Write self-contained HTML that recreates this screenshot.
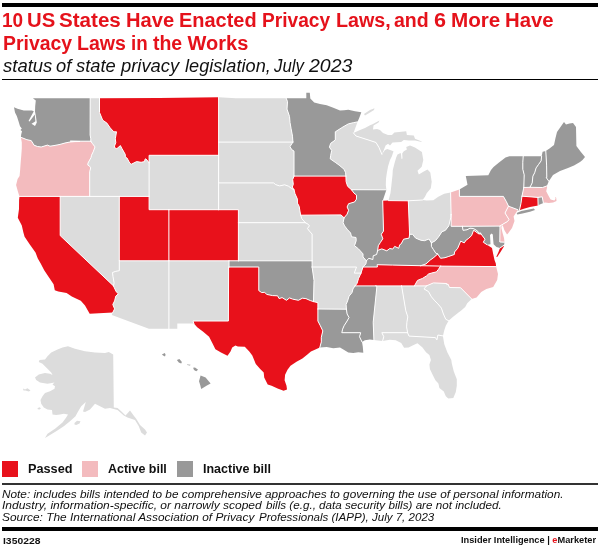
<!DOCTYPE html>
<html><head><meta charset="utf-8"><title>10 US States Have Enacted Privacy Laws</title>
<style>
html,body{margin:0;padding:0;background:#fff}
#c{position:relative;width:600px;height:551px;overflow:hidden;background:#fff;will-change:transform;font-family:"Liberation Sans",sans-serif}
#c span{position:absolute;white-space:nowrap;line-height:1;transform-origin:0 0;display:block}
#c span span{position:static;display:inline}
.bar{position:absolute;background:#000}
.sq{position:absolute;width:16.2px;height:15.9px;top:461px}
</style></head><body>
<div id="c">
<div class="bar" style="left:2px;top:3px;width:596px;height:3.6px"></div>
<div class="bar" style="left:2px;top:79px;width:596px;height:1px"></div>
<svg width="600" height="551" viewBox="0 0 600 551" style="position:absolute;left:0;top:0">
<g fill="#dcdcdc">
<path d="M60.2,196.4L119.3,196.4L119.3,260.8L119.3,270.7L115.8,271.3L112.5,272.5L113.0,276.8L114.1,282.9L113.5,285.9L60.2,235.6Z"/>
<path d="M90.2,98.3L90.1,135.0L90.8,138.8L90.8,141.2L92.2,143.3L95.0,146.9L93.2,151.8L91.5,155.3L91.0,157.6L88.0,163.0L87.8,165.1L89.5,166.1L90.7,167.9L89.7,171.6L89.7,196.4L149.1,196.4L149.1,162.8L146.9,160.0L145.8,158.8L144.9,159.4L144.6,161.6L141.1,162.3L136.6,161.6L131.2,164.3L129.7,163.0L127.0,158.0L125.3,157.2L125.3,154.5L121.8,148.3L120.4,145.6L116.8,148.7L114.2,147.4L114.8,145.2L115.8,142.6L115.3,138.8L116.5,131.8L113.8,131.8L110.2,127.9L106.9,123.1L102.7,120.2L99.5,112.4L99.5,98.3Z"/>
<path d="M149.1,155.3L218.6,155.3L218.6,209.7L149.1,209.7Z"/>
<path d="M119.3,260.8L168.9,260.8L168.9,328.8L148.9,328.8L111.8,315.1L112.7,312.6L114.6,308.9L112.8,304.5L114.6,300.9L115.8,296.1L118.4,293.8L116.3,291.9L114.0,287.1L113.5,285.9L114.1,282.9L113.0,276.8L112.5,272.5L115.8,271.3L119.3,270.7Z"/>
<path d="M168.9,260.8L229.0,260.8L229.0,267.0L228.6,267.0L228.4,321.0L193.0,321.0L193.9,323.6L177.3,323.6L177.3,328.8L168.9,328.8Z"/>
<path d="M218.6,97.3L235.9,98.3L286.2,98.3L287.5,101.6L287.0,109.1L289.5,116.5L290.0,122.4L291.0,128.2L292.5,136.2L292.9,142.1L218.6,142.1Z"/>
<path d="M218.6,142.1L292.9,142.1L290.0,146.6L291.7,149.6L294.0,151.1L294.0,176.1L292.7,179.6L293.3,184.3L292.3,187.0L294.0,189.8L291.5,188.4L288.5,186.2L284.6,184.8L279.6,185.9L275.6,184.6L273.6,182.9L218.6,182.9Z"/>
<path d="M218.6,182.9L273.6,182.9L275.6,184.6L279.6,185.9L284.6,184.8L288.5,186.2L291.5,188.4L294.0,189.8L295.0,193.7L297.4,199.1L297.4,203.1L299.2,206.4L299.9,211.0L300.7,215.2L301.9,218.8L305.4,222.7L238.4,222.7L238.4,209.7L218.6,209.7Z"/>
<path d="M238.4,222.7L305.4,222.7L308.4,224.4L309.4,225.9L307.4,228.5L309.4,231.1L312.1,234.0L312.1,260.8L238.4,260.8Z"/>
<path d="M300.7,215.2L340.9,214.9L344.1,217.8L343.1,222.7L344.6,225.9L347.6,229.8L350.6,233.0L351.5,236.8L356.0,237.5L356.2,240.7L354.5,245.7L358.5,248.9L363.0,253.9L363.0,257.0L366.4,260.8L365.9,263.9L363.0,267.0L362.0,270.0L361.0,273.1L354.3,273.1L356.5,267.0L312.1,267.0L312.1,260.8L312.1,234.0L309.4,231.1L307.4,228.5L309.4,225.9L308.4,224.4L305.4,222.7L301.9,218.8Z"/>
<path d="M312.1,267.0L356.5,267.0L354.3,273.1L361.0,273.1L358.5,278.6L357.0,283.5L355.0,285.9L353.0,288.9L352.0,292.6L349.1,296.1L347.6,300.9L346.1,304.5L346.4,309.2L317.9,309.0L317.9,302.7L313.5,301.6L314.0,280.4Z"/>
<path d="M375.9,285.9L401.6,285.9L405.8,310.8L407.8,316.9L406.9,322.2L406.6,326.9L407.6,332.7L381.8,332.7L383.8,336.7L382.6,341.0L377.8,340.5L373.9,339.9L373.2,322.2L376.9,286.5Z"/>
<path d="M401.6,285.9L414.4,285.9L426.4,285.9L424.0,288.9L428.5,291.6L431.4,296.8L434.9,300.9L437.9,303.9L441.4,308.1L443.4,314.0L445.8,319.3L448.6,320.7L445.8,325.7L444.3,330.3L442.9,335.9L437.9,335.0L436.9,339.9L435.4,337.6L409.0,336.1L407.6,332.7L406.6,326.9L406.9,322.2L407.8,316.9L405.8,310.8Z"/>
<path d="M442.9,335.9L444.3,344.2L447.3,352.2L451.3,360.1L451.8,363.5L453.8,371.4L456.8,379.2L456.8,385.8L455.8,391.9L453.3,398.0L448.3,398.5L445.8,396.3L443.8,391.4L439.4,388.1L438.4,383.6L435.4,380.3L432.4,374.2L429.9,369.1L429.4,364.6L430.9,360.1L429.4,355.0L426.0,352.2L422.5,347.6L417.5,343.3L414.1,344.8L408.6,347.6L404.1,347.8L401.2,343.0L395.7,340.2L389.8,339.8L382.6,341.0L383.8,336.7L381.8,332.7L407.6,332.7L409.0,336.1L435.4,337.6L436.9,339.9L437.9,335.0Z"/>
<path d="M426.4,285.9L433.4,282.9L446.8,283.5L446.8,284.7L448.0,284.1L449.5,287.5L460.5,287.7L471.6,298.9L467.2,303.3L465.2,306.9L461.2,310.4L458.2,312.8L452.8,316.9L448.6,320.7L445.8,319.3L443.4,314.0L441.4,308.1L437.9,303.9L434.9,300.9L431.4,296.8L428.5,291.6L424.0,288.9Z"/>
<path d="M408.3,200.8L422.5,200.0L426.7,200.5L433.3,200.3L438.3,196.7L444.2,193.7L450.6,192.6L451.1,214.4L450.8,217.5L448.8,225.9L445.3,230.4L441.9,231.7L439.9,234.9L438.4,237.1L435.4,240.7L431.4,242.9L429.0,239.0L424.5,240.7L421.0,240.3L415.6,238.1L412.6,234.3L409.6,234.3Z"/>
<path d="M335.5,131.7L341.7,127.7L348.3,123.9L353.3,122.7L357.5,121.9L353.5,133.0L356.0,136.0L370.0,140.5L376.0,142.5L379.0,147.5L381.9,154.4L385.0,150.0L387.3,149.0L393.5,151.2L391.9,156.2L390.0,160.0L388.1,166.2L386.9,172.5L386.0,178.7L385.8,185.0L386.4,189.8L351.5,189.7L347.6,186.3L346.1,181.6L345.9,176.1L345.6,172.7L344.1,169.3L339.1,165.1L335.2,162.3L330.2,158.8L330.7,155.3L331.7,150.4L329.4,147.2L330.7,143.3L335.3,140.0L335.3,131.7Z"/>
<path d="M353.5,133.0L360.0,130.0L365.0,128.0L370.5,125.0L372.0,124.5L379.5,120.5L378.5,122.5L373.5,125.5L373.0,129.5L377.0,129.0L380.0,130.0L383.0,133.0L388.0,135.0L392.0,135.0L394.4,132.5L406.2,131.2L406.9,135.0L413.8,135.6L415.0,138.8L421.2,141.2L421.9,141.9L415.0,140.6L408.8,140.6L403.8,140.0L401.2,141.9L392.5,142.5L390.0,145.6L388.1,143.8L385.6,145.6L383.8,150.0L381.9,154.4L379.0,147.5L376.0,142.5L370.0,140.5L356.0,136.0ZM364.0,114.0L370.0,110.0L374.5,108.3L374.0,110.0L370.0,112.5L365.0,115.5ZM388.5,200.6L390.5,193.0L391.4,185.2L392.5,175.0L392.8,170.0L394.4,163.8L396.2,157.5L397.5,154.4L400.6,153.1L401.0,154.0L401.5,159.0L402.5,158.5L402.2,153.5L403.8,151.2L406.9,149.4L406.2,146.9L410.0,145.6L415.0,147.5L421.9,151.9L423.3,160.0L421.7,166.7L417.5,170.8L418.8,174.5L423.3,171.7L427.5,169.5L430.3,172.5L431.7,181.7L430.8,188.3L426.7,193.3L425.0,196.7L422.5,200.0L408.3,200.8Z"/>
<path d="M68.0,346.2L75.0,348.8L85.0,351.2L95.0,352.5L105.0,353.0L108.8,352.0L113.2,354.5L113.8,407.5L117.5,408.0L121.2,411.2L125.5,415.5L130.0,410.5L134.2,416.2L136.2,418.8L140.0,425.0L145.0,429.5L147.0,432.5L145.0,435.5L141.2,432.5L138.8,426.2L135.0,420.0L127.5,417.5L123.8,415.5L117.5,410.0L110.0,408.0L105.0,408.8L95.0,403.8L90.0,409.5L85.0,412.0L83.0,411.5L85.8,402.0L81.2,406.2L77.5,412.5L75.5,416.2L70.0,421.2L63.8,426.2L56.2,431.2L50.0,435.0L45.0,438.0L47.5,433.8L55.0,428.8L62.5,422.5L66.2,417.5L68.0,414.5L63.8,413.8L60.0,414.5L56.2,415.0L52.5,414.5L52.0,410.0L47.5,409.5L43.8,407.5L41.2,403.8L40.5,400.0L42.5,396.2L45.0,393.0L50.0,391.2L54.5,388.8L55.0,386.2L52.5,384.5L54.5,382.5L47.5,383.8L40.0,382.5L36.2,380.0L35.0,377.5L38.8,374.5L45.0,373.0L50.0,373.8L52.5,375.0L51.2,372.5L47.5,368.8L42.5,363.8L38.8,362.0L39.5,360.0L45.0,359.5L47.5,356.2L51.2,352.5L57.5,349.5L62.5,347.5ZM23.0,388.5L25.0,389.5L27.5,388.2L30.5,390.5L28.8,391.5L25.5,390.5L23.5,390.5ZM37.5,408.2L39.5,407.2L41.0,408.2L39.5,409.5L37.8,409.2ZM74.5,423.0L77.0,420.8L80.5,421.2L79.5,423.5L76.2,425.0L74.5,424.5Z"/>
</g>
<g fill="#f3bbbe">
<path d="M20.9,137.3L26.9,139.7L31.2,140.6L32.8,143.1L34.0,145.2L37.5,146.5L41.2,147.0L47.5,145.1L50.0,146.2L55.0,145.4L60.0,144.4L65.0,143.0L70.0,142.0L75.0,141.6L80.0,141.5L70.2,141.2L90.8,141.2L92.2,143.3L95.0,146.9L93.2,151.8L91.5,155.3L91.0,157.6L88.0,163.0L87.8,165.1L89.5,166.1L90.7,167.9L89.7,171.6L89.7,196.4L19.5,196.4L18.6,193.7L17.4,189.7L16.1,185.1L17.6,178.9L19.6,176.1L20.2,169.3L20.8,160.9L21.3,155.3L21.8,148.3L21.8,142.6Z"/>
<path d="M440.6,266.1L496.1,266.6L498.0,274.0L497.2,280.0L493.2,287.0L486.4,289.0L481.2,292.0L476.6,297.6L471.6,298.9L460.5,287.7L449.5,287.5L448.0,284.1L446.8,284.7L446.8,283.5L433.4,282.9L426.4,285.9L414.4,285.9L417.5,280.4L422.5,278.4L426.5,275.9L428.5,274.0L431.4,273.1L436.4,271.9L438.4,269.4Z"/>
<path d="M450.6,192.6L459.4,189.6L459.4,196.4L503.4,196.4L506.4,201.7L508.5,206.2L505.0,213.0L509.0,219.5L507.5,221.5L504.0,223.5L502.0,224.8L501.0,225.2L500.0,226.1L462.4,226.3L451.1,226.3L451.1,214.4Z"/>
<path d="M508.5,206.2L517.8,209.7L515.2,214.0L513.6,216.5L514.5,221.0L512.0,228.0L508.0,233.5L507.0,234.6L504.3,230.0L503.2,226.5L502.0,224.8L504.0,223.5L507.5,221.5L509.0,219.5L505.0,213.0Z"/>
<path d="M500.0,226.1L499.8,242.0L504.5,242.2L504.0,238.0L502.6,233.0L501.4,228.0L501.6,226.2L502.0,224.8L501.0,225.2Z"/>
<path d="M523.8,187.5L530.0,187.3L542.5,187.5L546.2,186.2L546.9,185.8L547.1,187.2L546.2,191.2L548.1,195.0L550.6,199.4L554.4,200.6L555.6,198.7L555.0,196.9L556.2,197.7L556.5,201.0L553.1,202.5L548.8,203.0L545.0,202.6L543.4,203.1L542.2,196.8L537.9,197.4L522.0,196.2Z"/>
</g>
<g fill="#999999">
<path d="M32.9,98.3L35.8,100.5L35.2,106.3L35.0,111.5L36.0,116.9L36.8,122.5L35.0,126.0L31.5,123.8L34.0,122.2L35.4,121.2L34.8,114.5L29.6,121.5L28.5,120.9L33.8,111.2L31.9,110.4L23.8,110.6L17.5,108.8L14.0,107.2L15.0,112.5L16.9,116.2L18.5,121.2L20.0,126.2L21.8,128.5L20.5,130.0L22.0,131.2L21.2,134.4L20.9,137.3L26.9,139.7L31.2,140.6L32.8,143.1L34.0,145.2L37.5,146.5L41.2,147.0L47.5,145.1L50.0,146.2L55.0,145.4L60.0,144.4L65.0,143.0L70.0,142.0L75.0,141.6L80.0,141.5L70.2,141.2L90.8,141.2L90.8,138.8L90.1,135.0L90.2,98.3Z"/>
<path d="M229.0,260.8L312.1,260.8L312.1,267.0L314.0,280.4L313.5,301.6L310.4,300.6L305.9,298.6L302.4,298.2L298.4,300.3L292.5,299.1L289.5,297.9L286.5,300.3L282.1,297.6L279.1,298.6L277.6,295.8L272.6,295.6L266.7,294.4L264.7,292.3L261.7,292.6L258.8,290.6L258.8,267.0L229.0,267.0Z"/>
<path d="M286.2,98.3L306.3,98.3L306.3,92.8L309.8,92.8L310.3,98.5L314.2,102.5L320.0,104.0L326.7,105.2L333.3,107.8L340.0,110.5L344.0,110.2L348.3,109.8L355.0,111.2L361.3,112.2L359.7,116.7L357.5,121.9L353.3,122.7L348.3,123.9L341.7,127.7L335.5,131.7L335.3,131.7L335.3,140.0L330.7,143.3L329.4,147.2L331.7,150.4L330.7,155.3L330.2,158.8L335.2,162.3L339.1,165.1L344.1,169.3L345.6,172.7L345.9,176.1L294.0,176.1L294.0,151.1L291.7,149.6L290.0,146.6L292.9,142.1L292.5,136.2L291.0,128.2L290.0,122.4L289.5,116.5L287.0,109.1L287.5,101.6Z"/>
<path d="M317.9,309.0L346.4,309.2L347.1,314.0L349.1,317.5L347.1,321.0L344.1,325.7L342.6,329.2L341.8,332.7L360.7,332.7L359.5,336.7L362.0,341.9L362.8,346.7L363.3,352.7L358.3,352.2L353.3,353.0L348.3,352.5L344.2,350.0L340.0,347.5L333.3,348.3L326.7,347.0L319.8,347.6L321.3,341.9L321.3,337.3L322.8,330.9L320.3,325.7L317.9,321.0Z"/>
<path d="M355.0,285.9L375.9,285.9L376.9,286.5L373.2,322.2L373.9,339.9L369.9,339.6L364.9,340.2L362.0,341.9L359.5,336.7L360.7,332.7L341.8,332.7L342.6,329.2L344.1,325.7L347.1,321.0L349.1,317.5L347.1,314.0L346.4,309.2L346.1,304.5L347.6,300.9L349.1,296.1L352.0,292.6L353.0,288.9Z"/>
<path d="M366.4,260.8L368.9,258.3L372.9,259.5L373.2,255.8L376.6,254.5L377.6,250.8L378.3,250.2L381.8,248.9L386.8,250.8L389.8,248.5L392.7,249.1L394.7,246.4L398.7,248.3L399.7,244.8L401.2,243.8L403.6,239.2L409.1,238.1L409.6,234.3L412.6,234.3L415.6,238.1L421.0,240.3L424.5,240.7L429.0,239.0L431.4,242.9L431.4,246.4L433.4,249.5L435.9,253.3L437.7,254.0L433.9,257.4L430.2,260.1L426.0,263.9L420.7,265.7L392.7,265.1L377.1,264.7L377.4,267.0L363.0,267.0L365.9,263.9Z"/>
<path d="M431.4,242.9L435.4,240.7L438.4,237.1L439.9,234.9L441.9,231.7L445.3,230.4L448.8,225.9L450.8,217.5L451.1,214.4L451.1,226.3L462.4,226.3L463.0,230.3L467.0,229.8L470.0,228.2L473.5,228.5L477.5,231.0L479.0,233.8L480.0,232.6L481.0,234.0L478.8,233.9L473.6,230.2L471.6,235.6L468.5,238.5L466.2,240.0L464.2,242.9L460.7,241.1L457.7,248.3L454.5,252.0L454.3,254.5L448.8,256.4L445.0,257.7L440.6,258.3L437.7,254.0L435.9,253.3L433.4,249.5L431.4,246.4Z"/>
<path d="M351.5,189.7L386.4,189.8L382.7,200.7L383.5,231.1L381.3,234.3L382.8,238.8L380.3,242.6L378.3,245.7L377.6,250.8L376.6,254.5L373.2,255.8L372.9,259.5L368.9,258.3L366.4,260.8L363.0,257.0L363.0,253.9L358.5,248.9L354.5,245.7L356.2,240.7L356.0,237.5L351.5,236.8L350.6,233.0L347.6,229.8L344.6,225.9L343.1,222.7L344.1,217.8L347.1,214.2L348.6,210.3L347.1,207.0L348.6,203.7L354.5,202.0L356.5,199.1L356.5,195.1L354.0,193.1Z"/>
<path d="M459.4,189.6L467.5,184.7L465.8,176.0L488.3,175.3L491.0,170.0L493.5,167.0L499.0,162.5L505.5,157.6L509.4,156.3L523.2,156.3L522.8,162.3L522.8,169.3L524.2,174.8L523.8,187.5L522.0,196.2L520.9,203.8L519.4,210.3L518.6,210.6L517.3,210.3L517.8,209.7L508.5,206.2L506.4,201.7L503.4,196.4L459.4,196.4ZM516.7,213.0L521.2,211.0L533.8,208.5L535.0,210.1L530.0,211.8L522.5,213.5L517.3,214.4Z"/>
<path d="M462.4,226.3L500.0,226.1L499.8,242.0L504.5,242.2L504.0,245.2L500.0,248.0L496.5,247.0L493.6,244.2L493.2,240.0L492.8,234.5L491.5,233.5L490.0,235.0L490.3,240.0L490.5,244.2L487.0,244.7L483.3,242.2L485.0,239.2L481.0,234.0L480.0,232.6L479.0,233.8L477.5,231.0L473.5,228.5L470.0,228.2L467.0,229.8L463.0,230.3Z"/>
<path d="M537.9,197.4L542.2,196.8L543.4,203.1L539.2,204.8L538.1,205.4Z"/>
<path d="M523.2,156.3L541.6,156.3L541.1,160.9L538.6,164.4L536.1,167.9L534.7,172.7L532.9,176.1L532.2,182.9L530.0,187.3L523.8,187.5L524.2,174.8L522.8,169.3L522.8,162.3Z"/>
<path d="M541.6,156.3L542.6,151.8L545.8,151.1L546.6,165.1L546.8,177.5L546.2,177.5L548.8,181.2L546.9,185.8L546.2,186.2L542.5,187.5L530.0,187.3L532.2,182.9L532.9,176.1L534.7,172.7L536.1,167.9L538.6,164.4L541.1,160.9Z"/>
<path d="M545.8,151.1L549.5,148.5L554.0,145.0L555.5,138.0L557.0,132.0L560.5,127.0L564.0,122.0L566.0,124.4L569.5,123.5L573.0,123.0L576.0,127.0L576.4,146.0L580.5,151.5L585.0,157.0L582.5,160.0L580.0,162.0L574.0,165.5L568.0,168.0L564.0,169.5L560.0,171.0L556.5,173.0L553.0,175.0L551.0,178.0L548.8,181.2L546.2,177.5L546.8,177.5L546.6,165.1Z"/>
<path d="M161.9,354.4L164.8,353.0L165.6,354.8L165.0,356.6L163.1,355.6ZM176.9,360.0L179.4,359.0L181.9,361.9L181.2,363.5L178.8,362.5ZM186.9,364.4L190.6,364.8L190.0,365.6L187.2,365.0ZM193.1,367.8L195.0,367.5L198.1,369.8L196.2,371.2L194.0,370.0ZM200.6,375.6L205.6,377.5L210.6,383.5L206.9,385.6L201.2,389.0L200.2,385.0L199.0,381.2Z"/>
</g>
<g fill="#e8111b">
<path d="M19.5,196.4L19.1,200.0L19.0,208.9L17.8,217.8L21.8,225.4L23.4,232.5L24.6,236.7L30.0,244.7L35.5,252.5L37.8,258.4L40.7,263.6L44.2,270.2L47.7,275.4L53.6,284.3L54.8,290.2L58.3,291.4L66.6,293.1L71.8,296.6L76.0,298.5L80.8,300.8L85.0,305.6L89.7,313.7L112.7,312.6L114.6,308.9L112.8,304.5L114.6,300.9L115.8,296.1L118.4,293.8L116.3,291.9L114.0,287.1L113.5,285.9L60.2,235.6L60.2,196.4Z"/>
<path d="M99.5,98.3L99.5,112.4L102.7,120.2L106.9,123.1L110.2,127.9L113.8,131.8L116.5,131.8L115.3,138.8L115.8,142.6L114.8,145.2L114.2,147.4L116.8,148.7L120.4,145.6L121.8,148.3L125.3,154.5L125.3,157.2L127.0,158.0L129.7,163.0L131.2,164.3L136.6,161.6L141.1,162.3L144.6,161.6L144.9,159.4L145.8,158.8L146.9,160.0L149.1,162.8L149.1,155.3L218.6,155.3L218.6,97.3L159.5,97.9Z"/>
<path d="M119.3,196.4L149.1,196.4L149.1,209.7L168.9,209.7L168.9,260.8L119.3,260.8Z"/>
<path d="M168.9,209.7L238.4,209.7L238.4,260.8L168.9,260.8Z"/>
<path d="M228.6,267.0L258.8,267.0L258.8,290.6L261.7,292.6L264.7,292.3L266.7,294.4L272.6,295.6L277.6,295.8L279.1,298.6L282.1,297.6L286.5,300.3L289.5,297.9L292.5,299.1L298.4,300.3L302.4,298.2L305.9,298.6L310.4,300.6L313.5,301.6L317.9,302.7L317.9,309.0L317.9,321.0L320.3,325.7L322.8,330.9L321.3,337.3L321.3,341.9L319.8,347.6L314.3,349.9L310.9,351.6L307.4,354.4L302.4,358.4L296.5,361.8L290.5,365.8L287.5,369.7L285.1,374.7L284.6,380.3L286.5,385.8L287.0,389.6L283.6,390.8L277.6,388.6L271.6,385.8L267.7,384.4L264.2,377.5L263.7,372.5L260.2,369.1L255.8,364.1L252.3,355.6L249.3,351.6L244.8,346.8L237.9,346.5L235.4,345.6L232.2,347.4L230.5,351.6L227.5,355.8L221.0,352.5L215.4,349.3L212.3,343.0L209.1,336.7L203.2,331.7L197.2,327.2L193.9,323.6L193.0,321.0L228.4,321.0Z"/>
<path d="M294.0,176.1L345.9,176.1L346.1,181.6L347.6,186.3L351.5,189.7L354.0,193.1L356.5,195.1L356.5,199.1L354.5,202.0L348.6,203.7L347.1,207.0L348.6,210.3L347.1,214.2L344.1,217.8L340.9,214.9L300.7,215.2L299.9,211.0L299.2,206.4L297.4,203.1L297.4,199.1L295.0,193.7L294.0,189.8L292.3,187.0L293.3,184.3L292.7,179.6Z"/>
<path d="M363.0,267.0L377.4,267.0L377.1,264.7L392.7,265.1L420.7,265.7L440.6,266.1L438.4,269.4L436.4,271.9L431.4,273.1L428.5,274.0L426.5,275.9L422.5,278.4L417.5,280.4L414.4,285.9L401.6,285.9L375.9,285.9L355.0,285.9L357.0,283.5L358.5,278.6L361.0,273.1L362.0,270.0Z"/>
<path d="M420.7,265.7L426.0,263.9L430.2,260.1L433.9,257.4L437.7,254.0L440.6,258.3L445.0,257.7L448.8,256.4L454.3,254.5L454.5,252.0L457.7,248.3L460.7,241.1L464.2,242.9L466.2,240.0L468.5,238.5L471.6,235.6L473.6,230.2L478.8,233.9L481.0,234.0L485.0,239.2L483.3,242.2L487.0,244.7L492.0,248.0L493.2,254.0L494.5,260.0L495.8,263.5L496.1,266.6L440.6,266.1ZM500.0,248.0L504.0,245.2L503.6,247.0L500.2,252.5L497.2,257.0L496.3,256.8L498.5,252.0Z"/>
<path d="M382.7,200.7L388.5,200.6L408.3,200.8L409.6,234.3L409.1,238.1L403.6,239.2L401.2,243.8L399.7,244.8L398.7,248.3L394.7,246.4L392.7,249.1L389.8,248.5L386.8,250.8L381.8,248.9L378.3,250.2L377.6,250.8L378.3,245.7L380.3,242.6L382.8,238.8L381.3,234.3L383.5,231.1Z"/>
<path d="M522.0,196.2L537.9,197.4L538.1,205.4L530.0,206.9L523.8,208.8L519.4,210.3L520.9,203.8Z"/>
</g>
<path d="M20.9,137.3L26.9,139.7L31.2,140.6L32.8,143.1L34.0,145.2L37.5,146.5L41.2,147.0L47.5,145.1L50.0,146.2L55.0,145.4L60.0,144.4L65.0,143.0L70.0,142.0L75.0,141.6L80.0,141.5L70.2,141.2L90.8,141.2M90.8,141.2L90.8,138.8L90.1,135.0L90.2,98.3M90.8,141.2L92.2,143.3L95.0,146.9L93.2,151.8L91.5,155.3L91.0,157.6L88.0,163.0L87.8,165.1L89.5,166.1L90.7,167.9L89.7,171.6L89.7,196.4M89.7,196.4L60.2,196.4M89.7,196.4L119.3,196.4M60.2,196.4L19.5,196.4M60.2,196.4L60.2,235.6L113.5,285.9M112.7,312.6L114.6,308.9L112.8,304.5L114.6,300.9L115.8,296.1L118.4,293.8L116.3,291.9L114.0,287.1L113.5,285.9M113.5,285.9L114.1,282.9L113.0,276.8L112.5,272.5L115.8,271.3L119.3,270.7L119.3,260.8M119.3,196.4L119.3,260.8M119.3,196.4L149.1,196.4M119.3,260.8L168.9,260.8M149.1,196.4L149.1,162.8M149.1,196.4L149.1,209.7L168.9,209.7M149.1,162.8L146.9,160.0L145.8,158.8L144.9,159.4L144.6,161.6L141.1,162.3L136.6,161.6L131.2,164.3L129.7,163.0L127.0,158.0L125.3,157.2L125.3,154.5L121.8,148.3L120.4,145.6L116.8,148.7L114.2,147.4L114.8,145.2L115.8,142.6L115.3,138.8L116.5,131.8L113.8,131.8L110.2,127.9L106.9,123.1L102.7,120.2L99.5,112.4L99.5,98.3M149.1,162.8L149.1,155.3L218.6,155.3M218.6,155.3L218.6,142.1M218.6,155.3L218.6,182.9M218.6,142.1L218.6,97.3M218.6,142.1L292.9,142.1M218.6,182.9L218.6,209.7M218.6,182.9L273.6,182.9L275.6,184.6L279.6,185.9L284.6,184.8L288.5,186.2L291.5,188.4L294.0,189.8M218.6,209.7L168.9,209.7M218.6,209.7L238.4,209.7L238.4,222.7M168.9,209.7L168.9,260.8M168.9,260.8L229.0,260.8M168.9,260.8L168.9,328.8M238.4,222.7L238.4,260.8M238.4,222.7L305.4,222.7M238.4,260.8L229.0,260.8M238.4,260.8L312.1,260.8M229.0,260.8L229.0,267.0M229.0,267.0L228.6,267.0L228.4,321.0L193.0,321.0L193.9,323.6M229.0,267.0L258.8,267.0L258.8,290.6L261.7,292.6L264.7,292.3L266.7,294.4L272.6,295.6L277.6,295.8L279.1,298.6L282.1,297.6L286.5,300.3L289.5,297.9L292.5,299.1L298.4,300.3L302.4,298.2L305.9,298.6L310.4,300.6L313.5,301.6M286.2,98.3L287.5,101.6L287.0,109.1L289.5,116.5L290.0,122.4L291.0,128.2L292.5,136.2L292.9,142.1M292.9,142.1L290.0,146.6L291.7,149.6L294.0,151.1L294.0,176.1M294.0,176.1L292.7,179.6L293.3,184.3L292.3,187.0L294.0,189.8M294.0,176.1L345.9,176.1M294.0,189.8L295.0,193.7L297.4,199.1L297.4,203.1L299.2,206.4L299.9,211.0L300.7,215.2M300.7,215.2L301.9,218.8L305.4,222.7M300.7,215.2L340.9,214.9L344.1,217.8M305.4,222.7L308.4,224.4L309.4,225.9L307.4,228.5L309.4,231.1L312.1,234.0L312.1,260.8M312.1,260.8L312.1,267.0M312.1,267.0L314.0,280.4L313.5,301.6M312.1,267.0L356.5,267.0L354.3,273.1L361.0,273.1M313.5,301.6L317.9,302.7L317.9,309.0M317.9,309.0L317.9,321.0L320.3,325.7L322.8,330.9L321.3,337.3L321.3,341.9L319.8,347.6M317.9,309.0L346.4,309.2M357.5,121.9L353.3,122.7L348.3,123.9L341.7,127.7L335.5,131.7L335.3,131.7L335.3,140.0L330.7,143.3L329.4,147.2L331.7,150.4L330.7,155.3L330.2,158.8L335.2,162.3L339.1,165.1L344.1,169.3L345.6,172.7L345.9,176.1M345.9,176.1L346.1,181.6L347.6,186.3L351.5,189.7M351.5,189.7L354.0,193.1L356.5,195.1L356.5,199.1L354.5,202.0L348.6,203.7L347.1,207.0L348.6,210.3L347.1,214.2L344.1,217.8M351.5,189.7L386.4,189.8M344.1,217.8L343.1,222.7L344.6,225.9L347.6,229.8L350.6,233.0L351.5,236.8L356.0,237.5L356.2,240.7L354.5,245.7L358.5,248.9L363.0,253.9L363.0,257.0L366.4,260.8M366.4,260.8L365.9,263.9L363.0,267.0M366.4,260.8L368.9,258.3L372.9,259.5L373.2,255.8L376.6,254.5L377.6,250.8M363.0,267.0L362.0,270.0L361.0,273.1M363.0,267.0L377.4,267.0L377.1,264.7L392.7,265.1L420.7,265.7M361.0,273.1L358.5,278.6L357.0,283.5L355.0,285.9M355.0,285.9L353.0,288.9L352.0,292.6L349.1,296.1L347.6,300.9L346.1,304.5L346.4,309.2M355.0,285.9L375.9,285.9M346.4,309.2L347.1,314.0L349.1,317.5L347.1,321.0L344.1,325.7L342.6,329.2L341.8,332.7L360.7,332.7L359.5,336.7L362.0,341.9M375.9,285.9L376.9,286.5L373.2,322.2L373.9,339.9M375.9,285.9L401.6,285.9M401.6,285.9L405.8,310.8L407.8,316.9L406.9,322.2L406.6,326.9L407.6,332.7M401.6,285.9L414.4,285.9M407.6,332.7L381.8,332.7L383.8,336.7L382.6,341.0M407.6,332.7L409.0,336.1L435.4,337.6L436.9,339.9L437.9,335.0L442.9,335.9M414.4,285.9L426.4,285.9M414.4,285.9L417.5,280.4L422.5,278.4L426.5,275.9L428.5,274.0L431.4,273.1L436.4,271.9L438.4,269.4L440.6,266.1M426.4,285.9L424.0,288.9L428.5,291.6L431.4,296.8L434.9,300.9L437.9,303.9L441.4,308.1L443.4,314.0L445.8,319.3L448.6,320.7M426.4,285.9L433.4,282.9L446.8,283.5L446.8,284.7L448.0,284.1L449.5,287.5L460.5,287.7L471.6,298.9M440.6,266.1L496.1,266.6M440.6,266.1L420.7,265.7M420.7,265.7L426.0,263.9L430.2,260.1L433.9,257.4L437.7,254.0M377.6,250.8L378.3,250.2L381.8,248.9L386.8,250.8L389.8,248.5L392.7,249.1L394.7,246.4L398.7,248.3L399.7,244.8L401.2,243.8L403.6,239.2L409.1,238.1L409.6,234.3M377.6,250.8L378.3,245.7L380.3,242.6L382.8,238.8L381.3,234.3L383.5,231.1L382.7,200.7M409.6,234.3L412.6,234.3L415.6,238.1L421.0,240.3L424.5,240.7L429.0,239.0L431.4,242.9M409.6,234.3L408.3,200.8M431.4,242.9L431.4,246.4L433.4,249.5L435.9,253.3L437.7,254.0M431.4,242.9L435.4,240.7L438.4,237.1L439.9,234.9L441.9,231.7L445.3,230.4L448.8,225.9L450.8,217.5L451.1,214.4M437.7,254.0L440.6,258.3L445.0,257.7L448.8,256.4L454.3,254.5L454.5,252.0L457.7,248.3L460.7,241.1L464.2,242.9L466.2,240.0L468.5,238.5L471.6,235.6L473.6,230.2L478.8,233.9L481.0,234.0M481.0,234.0L485.0,239.2L483.3,242.2L487.0,244.7M481.0,234.0L480.0,232.6L479.0,233.8L477.5,231.0L473.5,228.5L470.0,228.2L467.0,229.8L463.0,230.3L462.4,226.3M500.0,248.0L504.0,245.2M451.1,214.4L451.1,226.3L462.4,226.3M451.1,214.4L450.6,192.6M462.4,226.3L500.0,226.1M388.5,200.6L408.3,200.8M408.3,200.8L422.5,200.0M353.5,133.0L356.0,136.0L370.0,140.5L376.0,142.5L379.0,147.5L381.9,154.4M459.4,189.6L459.4,196.4L503.4,196.4L506.4,201.7L508.5,206.2M508.5,206.2L505.0,213.0L509.0,219.5L507.5,221.5L504.0,223.5L502.0,224.8L501.0,225.2L500.0,226.1M508.5,206.2L517.8,209.7M500.0,226.1L499.8,242.0L504.5,242.2M523.2,156.3L522.8,162.3L522.8,169.3L524.2,174.8L523.8,187.5M523.8,187.5L522.0,196.2M523.8,187.5L530.0,187.3M522.0,196.2L520.9,203.8L519.4,210.3M522.0,196.2L537.9,197.4M537.9,197.4L538.1,205.4M537.9,197.4L542.2,196.8L543.4,203.1M530.0,187.3L542.5,187.5L546.2,186.2L546.9,185.8M530.0,187.3L532.2,182.9L532.9,176.1L534.7,172.7L536.1,167.9L538.6,164.4L541.1,160.9L541.6,156.3M545.8,151.1L546.6,165.1L546.8,177.5L546.2,177.5L548.8,181.2" fill="none" stroke="#ffffff" stroke-width="1.0" stroke-linejoin="round" stroke-linecap="round"/>
</svg>
<div class="sq" style="left:1.9px;background:#e8111b"></div>
<div class="sq" style="left:81.8px;background:#f3bbbe"></div>
<div class="sq" style="left:176.9px;background:#999999"></div>
<div class="bar" style="left:2px;top:483.2px;width:596px;height:1.6px;background:#333"></div>
<div class="bar" style="left:2px;top:527px;width:596px;height:3.6px"></div>
<span style="font:bold 20px 'Liberation Sans',sans-serif;color:#e5121b;left:2.05px;top:8.60px;transform:scaleX(0.9500)">10</span>
<span style="font:bold 20px 'Liberation Sans',sans-serif;color:#e5121b;left:27.28px;top:8.60px;transform:scaleX(1.0154)">US</span>
<span style="font:bold 20px 'Liberation Sans',sans-serif;color:#e5121b;left:59.27px;top:8.60px;transform:scaleX(1.0293)">States</span>
<span style="font:bold 20px 'Liberation Sans',sans-serif;color:#e5121b;left:125.99px;top:8.60px;transform:scaleX(1.0065)">Have</span>
<span style="font:bold 20px 'Liberation Sans',sans-serif;color:#e5121b;left:179.00px;top:8.60px;transform:scaleX(0.9974)">Enacted</span>
<span style="font:bold 20px 'Liberation Sans',sans-serif;color:#e5121b;left:262.04px;top:8.60px;transform:scaleX(0.9571)">Privacy</span>
<span style="font:bold 20px 'Liberation Sans',sans-serif;color:#e5121b;left:336.02px;top:8.60px;transform:scaleX(0.9849)">Laws,</span>
<span style="font:bold 20px 'Liberation Sans',sans-serif;color:#e5121b;left:394.32px;top:8.60px;transform:scaleX(0.9758)">and</span>
<span style="font:bold 20px 'Liberation Sans',sans-serif;color:#e5121b;left:433.92px;top:8.60px;transform:scaleX(1.0800)">6</span>
<span style="font:bold 20px 'Liberation Sans',sans-serif;color:#e5121b;left:451.47px;top:8.60px;transform:scaleX(1.0326)">More</span>
<span style="font:bold 20px 'Liberation Sans',sans-serif;color:#e5121b;left:505.28px;top:8.60px;transform:scaleX(1.0152)">Have</span>
<span style="font:bold 20px 'Liberation Sans',sans-serif;color:#e5121b;left:2.73px;top:31.80px;transform:scaleX(0.9714)">Privacy</span>
<span style="font:bold 20px 'Liberation Sans',sans-serif;color:#e5121b;left:77.32px;top:31.80px;transform:scaleX(0.9792)">Laws</span>
<span style="font:bold 20px 'Liberation Sans',sans-serif;color:#e5121b;left:131.06px;top:31.80px;transform:scaleX(0.9375)">in</span>
<span style="font:bold 20px 'Liberation Sans',sans-serif;color:#e5121b;left:152.50px;top:31.80px;transform:scaleX(0.9733)">the</span>
<span style="font:bold 20px 'Liberation Sans',sans-serif;color:#e5121b;left:187.50px;top:31.80px;transform:scaleX(1.0000)">Works</span>
<span style="font:italic 18px 'Liberation Sans',sans-serif;color:#111;left:2.50px;top:55.71px;transform:scaleX(1.0277)">status</span>
<span style="font:italic 18px 'Liberation Sans',sans-serif;color:#111;left:55.98px;top:55.71px;transform:scaleX(1.0187)">of</span>
<span style="font:italic 18px 'Liberation Sans',sans-serif;color:#111;left:76.30px;top:55.71px;transform:scaleX(1.0184)">state</span>
<span style="font:italic 18px 'Liberation Sans',sans-serif;color:#111;left:120.80px;top:55.71px;transform:scaleX(1.0207)">privacy</span>
<span style="font:italic 18px 'Liberation Sans',sans-serif;color:#111;left:184.50px;top:55.71px;transform:scaleX(1.0084)">legislation,</span>
<span style="font:italic 18px 'Liberation Sans',sans-serif;color:#111;left:274.20px;top:55.71px;transform:scaleX(0.9333)">July</span>
<span style="font:italic 18px 'Liberation Sans',sans-serif;color:#111;left:309.20px;top:55.71px;transform:scaleX(1.0825)">2023</span>
<span id="l1" style="font:bold 12.5px 'Liberation Sans',sans-serif;color:#111;left:28.00px;top:461.79px;transform:scaleX(1.0164)">Passed</span>
<span id="l2" style="font:bold 12.5px 'Liberation Sans',sans-serif;color:#111;left:108.00px;top:461.79px;transform:scaleX(0.9958)">Active bill</span>
<span id="l3" style="font:bold 12.5px 'Liberation Sans',sans-serif;color:#111;left:203.00px;top:461.79px;transform:scaleX(0.9986)">Inactive bill</span>
<span id="n1" style="font:italic 11.3px 'Liberation Sans',sans-serif;color:#111;left:2.30px;top:487.67px;transform:scaleX(1.0445)">Note: includes bills intended to be comprehensive approaches to governing the use of personal information.</span>
<span style="font:italic 11.3px 'Liberation Sans',sans-serif;color:#111;left:1.69px;top:499.47px;transform:scaleX(1.0613)">Industry, information-specific, or narrowly scoped</span>
<span style="font:italic 11.3px 'Liberation Sans',sans-serif;color:#111;left:265.80px;top:499.47px;transform:scaleX(1.0317)">bills (e.g., data security bills) are not included.</span>
<span style="font:italic 11.3px 'Liberation Sans',sans-serif;color:#111;left:1.70px;top:511.37px;transform:scaleX(1.0510)">Source: The International Association of Privacy</span>
<span style="font:italic 11.3px 'Liberation Sans',sans-serif;color:#111;left:259.20px;top:511.37px;transform:scaleX(1.0222)">Professionals (IAPP), July 7, 2023</span>
<span id="f1" style="font:bold 9.5px 'Liberation Sans',sans-serif;color:#111;left:2.60px;top:535.40px;transform:scaleX(1.0890)">I350228</span>
<span id="f2" style="font:bold 9.2px 'Liberation Sans',sans-serif;color:#111;left:460.50px;top:535.27px;transform:scaleX(1.0049)">Insider Intelligence | <span style="color:#e5121b">e</span>Marketer</span>
</div>
</body></html>
